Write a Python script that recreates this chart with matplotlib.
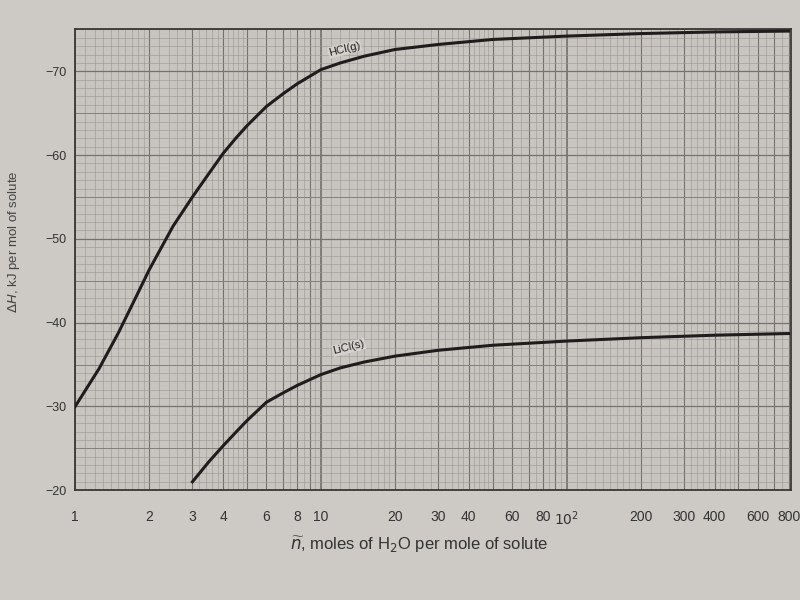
import numpy as np
import matplotlib
matplotlib.use("Agg")
import matplotlib.pyplot as plt
from matplotlib.ticker import FixedLocator, NullFormatter

plt.rcParams['font.family'] = ['Liberation Sans', 'DejaVu Sans']
plt.rcParams['mathtext.fontset'] = 'dejavusans'

# valores (n = moles de agua por mol de soluto)
n_hcl = [1, 1.25, 1.5, 1.75, 2, 2.5, 3, 3.5, 4, 4.5, 5, 6, 7, 8, 10, 12, 15,
         20, 30, 50, 100, 200, 400, 800]
dh_hcl = [-30, -34.5, -38.8, -42.8, -46.3, -51.5, -55.0, -57.8, -60.2, -62.0,
          -63.5, -65.8, -67.3, -68.5, -70.2, -71.0, -71.8, -72.6, -73.2,
          -73.8, -74.2, -74.5, -74.7, -74.8]

n_licl = [3, 3.5, 4, 4.5, 5, 6, 7, 8, 10, 12, 15, 20, 30, 50, 100, 200, 400, 800]
dh_licl = [-21.0, -23.4, -25.3, -26.9, -28.3, -30.5, -31.6, -32.5, -33.8,
           -34.6, -35.3, -36.0, -36.7, -37.3, -37.8, -38.2, -38.5, -38.7]

x_ticks = [1, 2, 3, 4, 6, 8, 10, 20, 30, 40, 60, 80, 100, 200, 300, 400, 600, 800]
x_labels = ["1", "2", "3", "4", "6", "8", "10", "20", "30", "40", "60", "80",
            "$10^2$", "200", "300", "400", "600", "800"]
y_ticks = [-20, -30, -40, -50, -60, -70]
y_labels = ["\u221220", "\u221230", "\u221240", "\u221250", "\u221260", "\u221270"]

fig = plt.figure(figsize=(8, 6), dpi=100, facecolor="#cdc9c4")
ax = fig.add_axes([0.094, 0.183, 0.895, 0.768], facecolor="#c8c4bf")

ax.set_xscale("log")
ax.set_xlim(1, 820)
ax.set_ylim(-20, -75)

# cuadrícula tipo papel logarítmico
minor_x = []
for dec in [1, 10, 100]:
    for v in np.arange(1, 2, 0.1):
        minor_x.append(v * dec)
    for v in np.arange(2, 5, 0.2):
        minor_x.append(v * dec)
    for v in np.arange(5, 10, 0.5):
        minor_x.append(v * dec)
minor_x = [v for v in minor_x if v <= 820]
for v in minor_x:
    ax.axvline(v, color="#9a9692", lw=0.4, zorder=1)
for dec in [1, 10, 100]:
    for k in range(1, 10):
        if k * dec <= 820:
            ax.axvline(k * dec, color="#75716d", lw=0.8 if k > 1 else 1.2, zorder=1)
for y in range(-75, -19):
    if y % 10 == 0:
        ax.axhline(y, color="#75716d", lw=0.9, zorder=1)
    elif y % 5 == 0:
        ax.axhline(y, color="#827e7a", lw=0.7, zorder=1)
    else:
        ax.axhline(y, color="#9a9692", lw=0.4, zorder=1)

ax.plot(n_hcl, dh_hcl, color="#1e1c1c", lw=2.2, zorder=3)
ax.plot(n_licl, dh_licl, color="#1e1c1c", lw=2.2, zorder=3)

ax.text(12.5, -71.6, "HCl(g)", fontsize=8, rotation=14, ha="center", va="bottom",
        color="#222222", zorder=4,
        bbox=dict(facecolor="#d6d3ce", edgecolor="none", pad=0.5))
ax.text(13, -36.0, "LiCl(s)", fontsize=8, rotation=14, ha="center", va="bottom",
        color="#222222", zorder=4,
        bbox=dict(facecolor="#d6d3ce", edgecolor="none", pad=0.5))

ax.xaxis.set_major_locator(FixedLocator(x_ticks))
ax.xaxis.set_minor_formatter(NullFormatter())
ax.set_xticks(x_ticks)
ax.set_xticklabels(x_labels, fontsize=10, color="#333333")
ax.set_yticks(y_ticks)
ax.set_yticklabels(y_labels, fontsize=9, color="#333333")
ax.tick_params(axis="both", which="both", length=0)
ax.tick_params(axis="x", pad=14)
ax.tick_params(axis="y", pad=6)

for s in ax.spines.values():
    s.set_color("#3a3735")
    s.set_linewidth(1.3)

ax.set_xlabel(r"$\widetilde{n}$, moles of H$_2$O per mole of solute",
              fontsize=12, color="#333333", labelpad=6)
ax.xaxis.set_label_coords(0.48, -0.095)
ax.set_ylabel(r"$\Delta H$, kJ per mol of solute", fontsize=9.5, color="#444444")
ax.yaxis.set_label_coords(-0.075, 0.54)

fig.savefig("out.png", dpi=100, facecolor=fig.get_facecolor())
